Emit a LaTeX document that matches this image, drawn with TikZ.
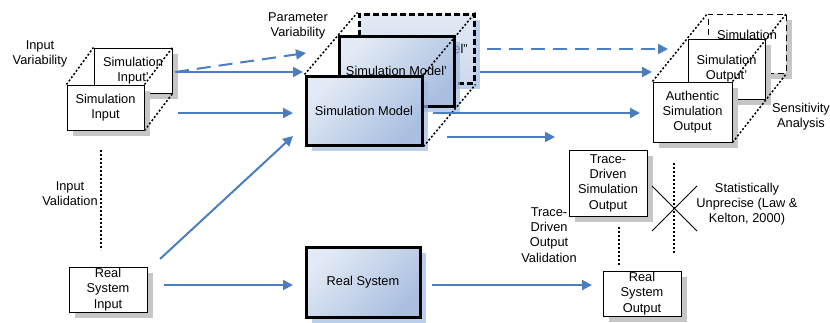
\documentclass[tikz,border=0pt]{standalone}
\usepackage{fontspec}
\setmainfont{Liberation Sans}
\usetikzlibrary{shadows,arrows.meta}
\definecolor{flowblue}{HTML}{4A7EBF}
\definecolor{mlight}{HTML}{E2EAF5}
\definecolor{mdark}{HTML}{AABFE0}
\definecolor{mpale}{HTML}{CCD9ED}
\definecolor{shblue}{HTML}{9FBAE2}
\definecolor{shgray}{HTML}{C6C6C6}
\newcommand\dfont{\fontsize{12.8}{15.3}\selectfont}

\tikzset{
  txt/.style={font=\dfont, align=center, inner sep=0pt},
  gshadow/.style={general shadow={shadow xshift=6pt, shadow yshift=-6pt, fill=shgray}},
  bshadow/.style={general shadow={shadow xshift=6pt, shadow yshift=-6pt, fill=shblue,
      opacity=0.7}},
  wbox/.style={rectangle, draw=black, line width=1pt, fill=white, txt, gshadow},
  mbox/.style={rectangle, draw=black, line width=3pt, top color=mlight,
      bottom color=mdark, shading angle=45, txt, bshadow},
  flow/.style={draw=flowblue, line width=2pt, -{Triangle[length=10pt,width=10pt]}},
  flowd/.style={flow, dash pattern=on 14pt off 8pt},
  dotl/.style={line width=1.5pt, dash pattern=on 2pt off 2pt},
}

\begin{document}
\begin{tikzpicture}[x=1pt,y=-1pt]
\useasboundingbox (0,0) rectangle (830,322);
\fill[white] (0,0) rectangle (830,322);

% ---- simulation input stack
\node[wbox, minimum width=78pt, minimum height=45pt] (siB) at (133,70.5) {Simulation\\Input'};
\node[wbox, minimum width=77pt, minimum height=45pt] (siF) at (105.5,107.5) {Simulation\\Input};
\draw[dotl] (siF.north west) -- (siB.north west);
\draw[dotl] (siF.north east) -- (siB.north east);
\draw[dotl] (siF.south east) -- (siB.south east);
\node[txt] (invar) at (40,54) {Input\\Variability};

% ---- simulation model stack
\node[mbox, top color=mlight, bottom color=mpale, dash pattern=on 6pt off 3pt,
      minimum width=115pt, minimum height=69pt] (smC) at (416.5,48.5) {Simulation Model''};
\node[mbox, minimum width=115pt, minimum height=70pt] (smB) at (396.5,71) {Simulation Model'};
\node[mbox, minimum width=116pt, minimum height=69pt] (smA) at (364,110.5) {Simulation Model};
\draw[dotl] (smA.north west) -- (smC.north west);
\draw[dotl] (smA.north east) -- (smC.north east);
\draw[dotl] (smA.south east) -- (smC.south east);
\node[txt] (parvar) at (298,26) {Parameter\\Variability};

% ---- simulation output stack
\node[wbox, dash pattern=on 6pt off 4pt, minimum width=78pt, minimum height=59pt]
      (soC) at (747,43.5) {Simulation\\Output''};
\node[wbox, minimum width=77pt, minimum height=60pt] (soB) at (726.5,69) {Simulation\\Output'};
\node[wbox, minimum width=79pt, minimum height=60pt] (soA) at (692.5,112) {Authentic\\Simulation\\Output};
\draw[dotl] (soA.north west) -- (soC.north west);
\draw[dotl] (soA.north east) -- (soC.north east);
\draw[dotl] (soA.south east) -- (soC.south east);
\node[txt] (sens) at (801,117) {Sensitivity\\Analysis};

% ---- real system row and trace-driven output
\node[wbox, minimum width=78pt, minimum height=66pt] (tdo) at (608,183) {Trace-\\Driven\\Simulation\\Output};
\node[wbox, minimum width=78pt, minimum height=45pt] (rso) at (642,293.5) {Real\\System\\Output};
\node[wbox, minimum width=78pt, minimum height=45pt] (rsi) at (108,289.5) {Real\\System\\Input};
\node[mbox, minimum width=114pt, minimum height=70pt] (rs) at (363,282) {Real System};

% ---- validation labels and dotted links
\coordinate (iv1) at (101,150);
\coordinate (iv2) at (101,250);
\draw[dotl] (iv1) -- (iv2);
\node[txt] (inval) at (70,194) {Input\\Validation};

\coordinate (tv1) at (619,227);
\coordinate (tv2) at (619,265);
\draw[dotl] (tv1) -- (tv2);
\node[txt] (tdval) at (549,235) {Trace-\\Driven\\Output\\Validation};

\coordinate (sv1) at (674,163);
\coordinate (sv2) at (674,253);
\draw[dotl] (sv1) -- (sv2);
\coordinate (xa) at (652,186);
\coordinate (xb) at (697,231);
\coordinate (xc) at (697,186);
\coordinate (xd) at (652,231);
\draw[line width=0.9pt] (xa) -- (xb);
\draw[line width=0.9pt] (xc) -- (xd);
\node[txt] (stat) at (747,204) {Statistically\\Unprecise (Law \&\\Kelton, 2000)};

% ---- flows
\coordinate (f1s) at (175,72);   \coordinate (f1e) at (306,53);
\coordinate (f2e) at (303,72);
\coordinate (f3s) at (178,113);  \coordinate (f3e) at (293,113);
\coordinate (f4s) at (160,259);  \coordinate (f4e) at (293,136);
\coordinate (f5s) at (164,285);  \coordinate (f5e) at (293,285);
\coordinate (f6s) at (432,285);  \coordinate (f6e) at (592,285);
\coordinate (f7s) at (487,49);   \coordinate (f7e) at (668,49);
\coordinate (f8s) at (480,72);   \coordinate (f8e) at (652,72);
\coordinate (f9s) at (433,113);  \coordinate (f9e) at (640,113);
\coordinate (f10s) at (447,137); \coordinate (f10e) at (555,137);

\draw[flowd] (f1s) -- (f1e);
\draw[flow] (f1s) -- (f2e);
\draw[flow] (f3s) -- (f3e);
\draw[flow] (f4s) -- (f4e);
\draw[flow] (f5s) -- (f5e);
\draw[flow] (f6s) -- (f6e);
\draw[flowd] (f7s) -- (f7e);
\draw[flow] (f8s) -- (f8e);
\draw[flow] (f9s) -- (f9e);
\draw[flow] (f10s) -- (f10e);
\end{tikzpicture}
\end{document}
